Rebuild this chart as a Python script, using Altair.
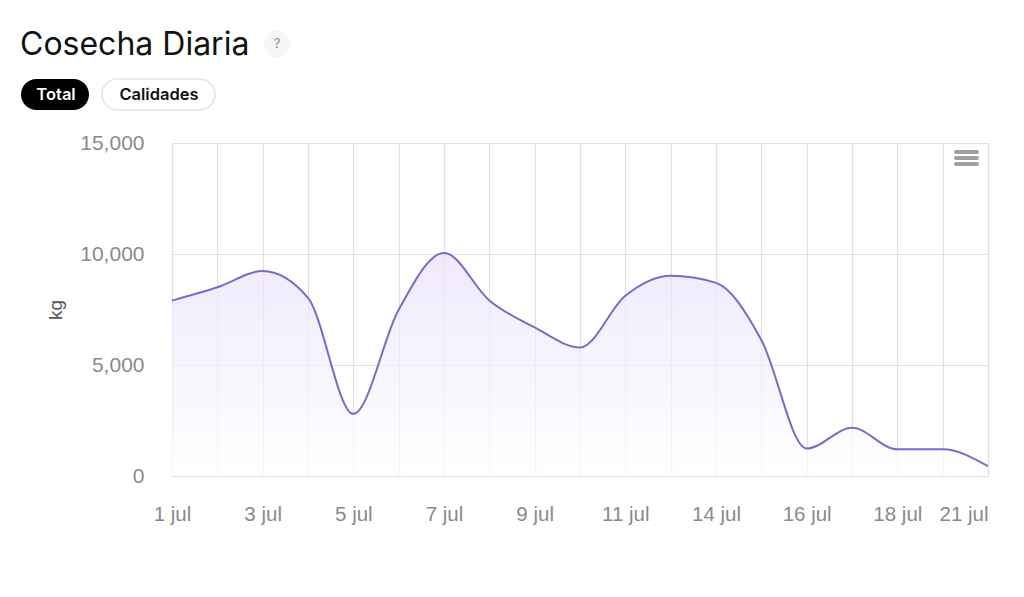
import json
import altair as alt
import pandas as pd

# ---- data ----
fechas = ["1 jul", "2 jul", "3 jul", "4 jul", "5 jul", "6 jul", "7 jul", "8 jul",
          "9 jul", "10 jul", "11 jul", "12 jul", "14 jul", "15 jul", "16 jul",
          "17 jul", "18 jul", "19 jul", "21 jul"]
kg = [7900, 8500, 9230, 8020, 2800, 7490, 10050, 7910, 6690, 5790,
      8120, 9020, 8700, 6130, 1240, 2170, 1200, 1200, 440]
etiquetas = ["1 jul", "3 jul", "5 jul", "7 jul", "9 jul", "11 jul", "14 jul",
             "16 jul", "18 jul", "21 jul"]
y_ticks = [0, 5000, 10000, 15000]

titulo = "Cosecha Diaria"
botones = ["Total", "Calidades"]

df = pd.DataFrame({"fecha": fechas, "kg": kg})

W, H = 816, 333
LINE = "#7b6bc4"
GRID = "#e0e0e0"
FONT = "Liberation Sans"
UI_FONT = "Inter"

label_expr = "indexof(" + json.dumps(etiquetas) + ", datum.value) >= 0 ? datum.value : ''"

area = alt.Chart(df).mark_area(
    interpolate="monotone",
    line=alt.OverlayMarkDef(color=LINE, strokeWidth=2),
    color=alt.Gradient(
        gradient="linear",
        stops=[alt.GradientStop(color="#e9e0fb", offset=0),
               alt.GradientStop(color="#ffffff", offset=1)],
        x1=1, x2=1, y1=0, y2=1,
    ),
).encode(
    x=alt.X("fecha:O", sort=fechas, scale=alt.Scale(type="point", padding=0),
            axis=alt.Axis(title=None, labelExpr=label_expr, labelAngle=0,
                          labelAlign={"condition": {"test": "datum.value === '21 jul'", "value": "right"},
                                      "value": "center"},
                          labelOverlap=False, labelPadding=28, labelFontSize=20.5,
                          labelColor="#8a8a8a", labelFont=FONT,
                          ticks=False, domain=False, grid=True, gridColor=GRID,
                          gridWidth=1.2)),
    y=alt.Y("kg:Q", scale=alt.Scale(domain=[0, 15000], nice=False),
            axis=alt.Axis(title="kg", values=y_ticks,
                          labelExpr="format(datum.value, ',')", ticks=False,
                          domain=False, grid=True, gridColor=GRID, gridWidth=1.2,
                          labelPadding=28, labelFontSize=21, labelColor="#8a8a8a",
                          labelFont=FONT, titleFont=FONT, titleFontSize=19,
                          titleFontWeight="normal", titleColor="#555555",
                          titleX=-117, titleY=H / 2, titleAngle=-90,
                          titleAlign="center", titleBaseline="middle")),
)

dummy = pd.DataFrame({"a": [0]})

title_mark = alt.Chart(dummy).mark_text(
    text=titulo, font=UI_FONT, fontSize=32, color="#111111",
    align="left", baseline="alphabetic",
).encode(x=alt.value(-152), y=alt.value(-88))

q_circle = alt.Chart(dummy).mark_point(
    shape="circle", size=700, filled=True, color="#f6f6f6", opacity=1,
).encode(x=alt.value(105), y=alt.value(-99))
q_text = alt.Chart(dummy).mark_text(
    text="?", font=UI_FONT, fontSize=13, color="#8a8a8a", baseline="middle",
).encode(x=alt.value(105), y=alt.value(-99))

pill1 = alt.Chart(dummy).mark_rect(cornerRadius=15.5, color="#000000").encode(
    x=alt.value(-151), x2=alt.value(-83), y=alt.value(-64), y2=alt.value(-33))
pill1_t = alt.Chart(dummy).mark_text(
    text=botones[0], font=UI_FONT, fontSize=16.5, fontWeight=600, color="#ffffff",
    baseline="middle").encode(x=alt.value(-116), y=alt.value(-48.5))
pill2 = alt.Chart(dummy).mark_rect(cornerRadius=15.5, fill="#ffffff",
                                   stroke="#e3e3e3", strokeWidth=1.5).encode(
    x=alt.value(-70), x2=alt.value(43), y=alt.value(-64), y2=alt.value(-33))
pill2_t = alt.Chart(dummy).mark_text(
    text=botones[1], font=UI_FONT, fontSize=16.5, fontWeight=600, color="#111111",
    baseline="middle").encode(x=alt.value(-13), y=alt.value(-48.5))

menu_layers = [
    alt.Chart(dummy).mark_rule(color="#a0a0a0", strokeWidth=4, strokeCap="round").encode(
        y=alt.value(py), x=alt.value(784), x2=alt.value(805))
    for py in (9, 15, 21)
]

chart = alt.layer(
    area, title_mark, q_circle, q_text, pill1, pill1_t, pill2, pill2_t, *menu_layers
).properties(
    width=W, height=H, autosize="none",
    padding={"left": 164, "top": 135, "right": 28, "bottom": 100},
).configure_view(stroke=None).configure(background="#ffffff")

chart.save("out.html", embed_options={"renderer": "svg", "actions": False})
